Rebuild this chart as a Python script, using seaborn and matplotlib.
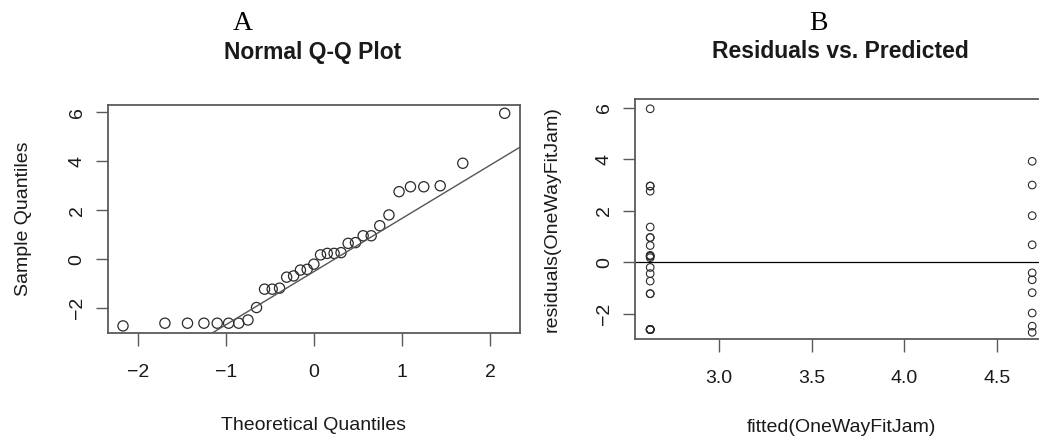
import numpy as np
import pandas as pd
import matplotlib
matplotlib.use("Agg")
import matplotlib.pyplot as plt
import seaborn as sns
from statistics import NormalDist

# ---- data ----
# residuals of the one-way fit, split by the two fitted levels
resid_low = [5.96, 2.96, 2.96, 2.76, 1.37, 0.96, 0.96, 0.65, 0.27, 0.24, 0.24, 0.18,
             -0.20, -0.44, -0.73, -1.22, -1.22, -2.61, -2.61, -2.61, -2.61, -2.61, -2.61]
resid_high = [3.92, 3.00, 1.81, 0.68, -0.41, -0.68, -1.18, -1.97, -2.48, -2.72]
fitted_levels = [2.627, 4.69]

qq_xticks = [-2, -1, 0, 1, 2]
qq_yticks = [-2, 0, 2, 4, 6]
rv_xticks = [3.0, 3.5, 4.0, 4.5]
rv_xticklabels = ["3.0", "3.5", "4.0", "4.5"]
rv_yticks = [-2, 0, 2, 4, 6]

panel_letters = ["A", "B"]
titles = ["Normal Q-Q Plot", "Residuals vs. Predicted"]
xlabels = ["Theoretical Quantiles", "fitted(OneWayFitJam)"]
ylabels = ["Sample Quantiles", "residuals(OneWayFitJam)"]

# ---- derived tables ----
sample = np.sort(np.array(resid_low + resid_high))
n = len(sample)
nd = NormalDist()
theo = np.array([nd.inv_cdf((i + 0.5) / n) for i in range(n)])
qq_df = pd.DataFrame({"theoretical": theo, "sample": sample})

q_y = np.quantile(sample, [0.25, 0.75])
q_x = np.array([nd.inv_cdf(0.25), nd.inv_cdf(0.75)])
slope = (q_y[1] - q_y[0]) / (q_x[1] - q_x[0])
intercept = q_y[0] - slope * q_x[0]

rv_df = pd.DataFrame({
    "fitted": [fitted_levels[0]] * len(resid_low) + [fitted_levels[1]] * len(resid_high),
    "residual": resid_low + resid_high,
})

# ---- style ----
sns.set_style("white")
plt.rcParams["font.family"] = ["Liberation Sans", "DejaVu Sans"]

W, H = 1039, 440
fig = plt.figure(figsize=(W / 100, H / 100), dpi=100)

ax1 = fig.add_axes([107.7 / W, 1 - 333 / H, (520 - 107.7) / W, (333 - 104.7) / H])
ax2 = fig.add_axes([635 / W, 1 - 339.3 / H, (1047 - 635) / W, (339.3 - 99) / H])

pt_col = "#2b2b2b"
spine_col = "#5a5a5a"
txt_col = "#1a1a1a"
fs = 14

sns.scatterplot(data=qq_df, x="theoretical", y="sample", ax=ax1, marker="o",
                s=54, facecolors="none", edgecolors=pt_col, linewidths=0.9, legend=False)
ax1.axline((0, intercept), slope=slope, color="#555555", lw=1.0, zorder=1)
ax1.set_xlim(-2.34, 2.34)
ax1.set_ylim(-3.01, 6.31)
ax1.set_xticks(qq_xticks)
ax1.set_yticks(qq_yticks)

sns.scatterplot(data=rv_df, x="fitted", y="residual", ax=ax2, marker="o",
                s=30, facecolors="none", edgecolors=pt_col, linewidths=0.8, legend=False)
ax2.axhline(0, color="black", lw=0.9, zorder=1)
ax2.set_xlim(2.545, 4.77)
ax2.set_ylim(-2.99, 6.34)
ax2.set_xticks(rv_xticks)
ax2.set_xticklabels(rv_xticklabels)
ax2.set_yticks(rv_yticks)

for i, ax in enumerate([ax1, ax2]):
    for s in ax.spines.values():
        s.set_visible(True)
        s.set_color(spine_col)
        s.set_linewidth(1.3)
    ax.tick_params(axis="both", direction="out", length=9, width=1.0, color=spine_col,
                   labelsize=fs, labelcolor=txt_col, pad=13, bottom=True, left=True)
    for lab in ax.get_yticklabels():
        lab.set_rotation(90)
        lab.set_va("center")
        lab.set_ha("center")
    ax.set_xlabel(xlabels[i], fontsize=fs, color=txt_col)
    ax.set_ylabel(ylabels[i], fontsize=fs, color=txt_col)

# label positions (axes coordinates)
ax1.xaxis.set_label_coords(0.5, -(425.7 - 333) / (333 - 104.7))
ax1.yaxis.set_label_coords(-(107.7 - 24) / (520 - 107.7), 0.5)
ax2.xaxis.set_label_coords(0.5, -(427 - 339.3) / (339.3 - 99))
ax2.yaxis.set_label_coords(-(635 - 552) / (1047 - 635), 0.5)
for ax in (ax1, ax2):
    ax.xaxis.label.set_va("center")
    ax.yaxis.label.set_va("center")

# titles and panel letters
fig.text(313 / W, 1 - 52 / H, titles[0], ha="center", va="center",
         fontsize=16.5, fontweight="bold", color=txt_col)
fig.text(840 / W, 1 - 51 / H, titles[1], ha="center", va="center",
         fontsize=16.5, fontweight="bold", color=txt_col)
fig.text(243 / W, 1 - 24 / H, panel_letters[0], ha="center", va="center",
         fontsize=20, family=["Liberation Serif", "DejaVu Serif"], color="black")
fig.text(818 / W, 1 - 24 / H, panel_letters[1], ha="center", va="center",
         fontsize=20, family=["Liberation Serif", "DejaVu Serif"], color="black")

fig.savefig("out.png", dpi=100)
